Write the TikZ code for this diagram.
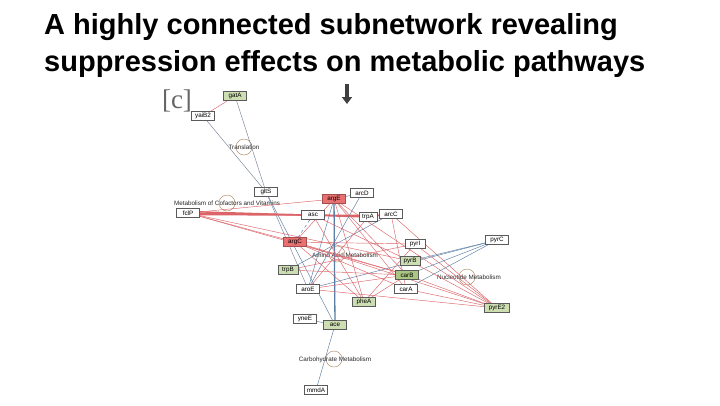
\documentclass[tikz,border=0pt]{standalone}
\usepackage{fontspec}
\setmainfont{Liberation Sans}
\newfontfamily\serifc{Liberation Serif}
\usetikzlibrary{arrows.meta}
\definecolor{redE}{RGB}{220,100,105}
\definecolor{blueE}{RGB}{90,125,165}
\definecolor{grayE}{RGB}{120,130,150}
\definecolor{redN}{RGB}{232,112,112}
\definecolor{greenN}{RGB}{205,222,178}
\definecolor{greenD}{RGB}{170,198,130}
\definecolor{boxB}{RGB}{90,90,90}
\tikzset{
  gene/.style={draw=boxB, line width=0.5pt, fill=white, minimum width=23pt, minimum height=9pt, inner sep=0.5pt, font=\fontsize{6.3}{7}\selectfont},
  gred/.style={gene, fill=redN, draw=redN!70!black},
  ggreen/.style={gene, fill=greenN},
  ggreenD/.style={gene, fill=greenD},
  pathc/.style={draw=brown!60!gray, line width=0.4pt, circle, minimum size=16pt, inner sep=0pt},
  plabel/.style={font=\fontsize{6.3}{7}\selectfont, inner sep=0pt, text=black!85},
  re/.style={draw=redE, line width=0.45pt},
  rt/.style={draw=redE, line width=1.4pt},
  be/.style={draw=blueE, line width=0.45pt},
  bt/.style={draw=blueE, line width=1.3pt},
  ge/.style={draw=grayE, line width=0.45pt},
}
\begin{document}
\begin{tikzpicture}[x=1pt,y=-1pt]
\useasboundingbox (0,0) rectangle (720,405);
\fill[white] (0,0) rectangle (720,405);
% title
\node[anchor=base west, inner sep=0, font=\fontsize{29}{34}\selectfont\bfseries] (t1) at (44,34) {A highly connected subnetwork revealing};
\node[anchor=base west, inner sep=0, font=\fontsize{29}{34}\selectfont\bfseries] (t2) at (44,71) {suppression effects on metabolic pathways};
% panel label and arrow
\node[font=\fontsize{27}{27}\selectfont\serifc, text=gray!80!black, inner sep=0] (lab) at (177,101) {[c]};
\coordinate (ar1) at (347,84);
\coordinate (ar2) at (347,104);
\draw[line width=3.5pt, draw=black!75, -{Triangle[width=10pt,length=7pt]}] (ar1) -- (ar2);
% pathway circles
\node[pathc] (ptr) at (244,147) {};
\node[plabel] (ltr) at (244,147) {Translation};
\node[pathc] (pco) at (227,203) {};
\node[plabel] (lco) at (227,203) {Metabolism of Cofactors and Vitamins};
\node[pathc] (paa) at (337,254) {};
\node[plabel] (laa) at (345,255) {Amino Acid Metabolism};
\node[pathc] (pnu) at (467,277) {};
\node[plabel] (lnu) at (469,277) {Nucleotide Metabolism};
\node[pathc] (pca) at (334,359) {};
\node[plabel] (lca) at (335,360) {Carbohydrate Metabolism};
% coordinates of genes
\coordinate (cgatA) at (235,96);
\coordinate (cyaiB) at (203,116);
\coordinate (cgltS) at (266,192);
\coordinate (cfclP) at (188,213);
\coordinate (cargE) at (334,199);
\coordinate (carcD) at (362,193);
\coordinate (casc) at (313,215);
\coordinate (ctrpA) at (368,217);
\coordinate (carcC) at (391,214);
\coordinate (cargC) at (295,242);
\coordinate (cpyrI) at (415,244);
\coordinate (cpyrC) at (497,240);
\coordinate (cpyrB) at (410,261);
\coordinate (ccarB) at (407,275);
\coordinate (ccarA) at (406,289);
\coordinate (cpyrE) at (497,308);
\coordinate (cpheA) at (364,302);
\coordinate (caroE) at (308,289);
\coordinate (ctrpB) at (288,270);
\coordinate (cyneE) at (305,319);
\coordinate (cace) at (335,325);
\coordinate (cmmdA) at (316,390);
% edges (drawn first, under nodes)
\draw[re] (cgatA) -- (cyaiB);
\draw[ge] (cyaiB) -- (cgltS);
\draw[ge] (cgatA) -- (cgltS);
\draw[be] (cgltS) -- (cace);
\draw[ge] (cgltS) -- (caroE);
\draw[re] (cfclP) -- (cargE);
\draw[rt] (cfclP) -- (casc);
\draw[rt] ([yshift=-1.5pt]cfclP) -- ([yshift=-1.5pt]carcC);
\draw[rt] ([yshift=1.5pt]cfclP) -- (ctrpA);
\draw[re] (cfclP) -- (cargC);
\draw[re] (cfclP) -- (cpyrB);
\draw[re] (cfclP) -- (ccarB);
\draw[bt] (cargE) -- (cace);
\draw[be] (cargE) -- (carcD);
\draw[re] (cargE) -- (cargC);
\draw[re] (cargE) -- (cpheA);
\draw[re] (cargE) -- (cpyrE);
\draw[re] (cargE) -- (ccarB);
\draw[be] (cargE) -- (caroE);
\draw[re] (cargE) -- (ccarA);
\draw[be, dashed] (casc) -- (cargC);
\draw[re] (casc) -- (cpheA);
\draw[re] (casc) -- (cpyrB);
\draw[re] (carcC) -- (cpyrE);
\draw[re] (carcC) -- (ccarA);
\draw[be] (carcC) -- (ctrpB);
\draw[be] (carcD) -- (caroE);
\draw[re] (ctrpA) -- (caroE);
\draw[re] (cargC) -- (cpyrE);
\draw[re] (cargC) -- (ccarB);
\draw[re] (cargC) -- (cpheA);
\draw[re] (cargC) -- (ccarA);
\draw[re] (cargC) -- (cpyrI);
\draw[be] (cpyrC) -- (cpyrB);
\draw[be] (cpyrC) -- (ccarB);
\draw[be] (cpyrC) -- (caroE);
\draw[be] (cpyrC) -- (ccarA);
\draw[re] (cpyrI) -- (cpyrE);
\draw[re] (cpyrI) -- (ctrpB);
\draw[re] (cpyrB) -- (cpyrE);
\draw[re] (ccarB) -- (cpyrE);
\draw[re] (ccarA) -- (cpyrE);
\draw[re] (caroE) -- (cpyrE);
\draw[re] (caroE) -- (ccarB);
\draw[re] (ctrpB) -- (ccarB);
\draw[re] (cpheA) -- (ccarB);
\draw[re] (cpheA) -- (cpyrI);
\draw[be] (cace) -- (cyneE);
\draw[be] (cace) -- (cmmdA);
% gene nodes
\node[ggreen] (gatA) at (cgatA) {gatA};
\node[gene] (yaiB) at (cyaiB) {yaiB2};
\node[gene] (gltS) at (cgltS) {gltS};
\node[gene] (fclP) at (cfclP) {fclP};
\node[gred] (argE) at (cargE) {argE};
\node[gene] (arcD) at (carcD) {arcD};
\node[gene] (asc) at (casc) {asc};
\node[gene, minimum width=18pt] (trpA) at (ctrpA) {trpA};
\node[gene] (arcC) at (carcC) {arcC};
\node[gred] (argC) at (cargC) {argC};
\node[gene, minimum width=20pt] (pyrI) at (cpyrI) {pyrI};
\node[gene] (pyrC) at (cpyrC) {pyrC};
\node[ggreen, minimum width=20pt] (pyrB) at (cpyrB) {pyrB};
\node[ggreenD] (carB) at (ccarB) {carB};
\node[gene] (carA) at (ccarA) {carA};
\node[ggreen, minimum width=25pt] (pyrE) at (cpyrE) {pyrE2};
\node[ggreen] (pheA) at (cpheA) {pheA};
\node[gene] (aroE) at (caroE) {aroE};
\node[ggreen, minimum width=20pt] (trpB) at (ctrpB) {trpB};
\node[gene] (yneE) at (cyneE) {yneE};
\node[ggreen] (ace) at (cace) {ace};
\node[gene] (mmdA) at (cmmdA) {mmdA};
\end{tikzpicture}
\end{document}
